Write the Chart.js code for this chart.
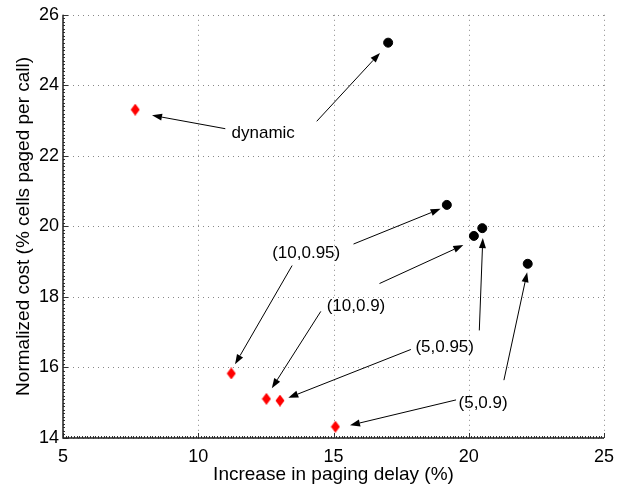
<!DOCTYPE html>
<html lang="en">
  <head>
    <meta charset="UTF-8" />
    <title>Paging cost vs delay</title>
    <script src="https://cdn.jsdelivr.net/npm/chart.js@4/dist/chart.umd.min.js"></script>
    <style>
      body { margin: 0; background: #fff; }
      #wrap { width: 624px; height: 487px; }
    </style>
  </head>
  <body>
    <div id="wrap"><canvas id="costChart" width="624" height="487"></canvas></div>
    <script>
      // black dots
      var dotX = [17.02, 19.19, 20.19, 20.5, 22.18];
      var dotY = [25.21, 20.61, 19.73, 19.95, 18.94];
      // red diamonds
      var diamondX = [7.67, 11.22, 12.52, 13.02, 15.07];
      var diamondY = [23.31, 15.83, 15.11, 15.06, 14.32];

      // annotation labels
      var labelText = ["dynamic", "(10,0.95)", "(10,0.9)", "(5,0.95)", "(5,0.9)"];
      var labelX = [12.4, 13.99, 15.83, 19.11, 20.53];
      var labelY = [22.65, 19.25, 17.73, 16.56, 14.98];

      // arrows (from -> to), in data units
      var arrowFromX = [11.0, 14.38, 15.74, 13.47, 16.7, 14.53, 17.86, 20.39, 19.53, 21.3];
      var arrowFromY = [22.77, 22.98, 19.5, 18.89, 18.38, 17.59, 16.51, 17.05, 15.08, 15.64];
      var arrowToX = [8.29, 16.72, 18.96, 11.36, 19.8, 12.72, 13.33, 20.52, 15.61, 22.16];
      var arrowToY = [23.15, 24.92, 20.5, 16.09, 19.47, 15.41, 15.14, 19.67, 14.36, 18.7];

      var xTicks = [5, 10, 15, 20, 25];
      var yTicks = [14, 16, 18, 20, 22, 24, 26];

      function toPoints(xs, ys) {
        return xs.map(function (x, i) { return { x: x, y: ys[i] }; });
      }

      // diamond marker, a bit taller than wide
      var diamond = document.createElement("canvas");
      diamond.width = 10;
      diamond.height = 12;
      var dctx = diamond.getContext("2d");
      dctx.fillStyle = "#ff0000";
      dctx.beginPath();
      dctx.moveTo(5, 0);
      dctx.lineTo(9.5, 6);
      dctx.lineTo(5, 12);
      dctx.lineTo(0.5, 6);
      dctx.closePath();
      dctx.fill();

      var annotate = {
        id: "annotate",
        beforeDatasetsDraw: function (chart) {
          var ctx = chart.ctx;
          var xs = chart.scales.x, ys = chart.scales.y;
          var area = chart.chartArea;
          ctx.save();
          // dotted grid
          ctx.strokeStyle = "#888";
          ctx.lineWidth = 1;
          ctx.setLineDash([1, 4]);
          ctx.beginPath();
          xTicks.forEach(function (v) {
            var px = Math.round(xs.getPixelForValue(v)) + 0.5;
            ctx.moveTo(px, area.top);
            ctx.lineTo(px, area.bottom);
          });
          yTicks.forEach(function (v) {
            var py = Math.round(ys.getPixelForValue(v)) + 0.5;
            ctx.moveTo(area.left, py);
            ctx.lineTo(area.right, py);
          });
          ctx.stroke();
          ctx.setLineDash([]);
          // minor ticks
          ctx.strokeStyle = "#333";
          ctx.beginPath();
          for (var v = 50; v <= 250; v++) {
            var px = Math.round(xs.getPixelForValue(v / 10)) + 0.5;
            ctx.moveTo(px, area.bottom);
            ctx.lineTo(px, area.bottom - (v % 50 === 0 ? 5 : 2));
          }
          for (var w = 140; w <= 260; w++) {
            var py = Math.round(ys.getPixelForValue(w / 10)) + 0.5;
            ctx.moveTo(area.left, py);
            ctx.lineTo(area.left + (w % 20 === 0 ? 5 : 2), py);
          }
          ctx.stroke();
          // axis lines
          ctx.strokeStyle = "#222";
          ctx.lineWidth = 1.5;
          ctx.beginPath();
          ctx.moveTo(area.left, area.top);
          ctx.lineTo(area.left, area.bottom);
          ctx.lineTo(area.right, area.bottom);
          ctx.stroke();
          ctx.restore();
        },
        afterDatasetsDraw: function (chart) {
          var ctx = chart.ctx;
          var xs = chart.scales.x, ys = chart.scales.y;
          ctx.save();
          ctx.strokeStyle = "#000";
          ctx.fillStyle = "#000";
          ctx.lineWidth = 1;
          for (var i = 0; i < arrowFromX.length; i++) {
            var x0 = xs.getPixelForValue(arrowFromX[i]);
            var y0 = ys.getPixelForValue(arrowFromY[i]);
            var x1 = xs.getPixelForValue(arrowToX[i]);
            var y1 = ys.getPixelForValue(arrowToY[i]);
            var ang = Math.atan2(y1 - y0, x1 - x0);
            var len = 10, half = 3.5;
            var bx = x1 - len * Math.cos(ang), by = y1 - len * Math.sin(ang);
            ctx.beginPath();
            ctx.moveTo(x0, y0);
            ctx.lineTo(bx, by);
            ctx.stroke();
            ctx.beginPath();
            ctx.moveTo(x1, y1);
            ctx.lineTo(bx + half * Math.sin(ang), by - half * Math.cos(ang));
            ctx.lineTo(bx - half * Math.sin(ang), by + half * Math.cos(ang));
            ctx.closePath();
            ctx.fill();
          }
          ctx.font = "17px 'Liberation Sans', Arial, sans-serif";
          ctx.textAlign = "center";
          ctx.textBaseline = "middle";
          for (var j = 0; j < labelText.length; j++) {
            ctx.fillText(labelText[j], xs.getPixelForValue(labelX[j]), ys.getPixelForValue(labelY[j]));
          }
          ctx.restore();
        },
      };

      var tickFont = { family: "'Liberation Sans', Arial, sans-serif", size: 18 };
      var titleFont = { family: "'Liberation Sans', Arial, sans-serif", size: 19 };

      new Chart(document.getElementById("costChart"), {
        type: "scatter",
        data: {
          datasets: [
            {
              data: toPoints(dotX, dotY),
              pointStyle: "circle",
              pointRadius: 4.5,
              pointHoverRadius: 4.5,
              backgroundColor: "#000",
              borderColor: "#000",
            },
            {
              data: toPoints(diamondX, diamondY),
              pointStyle: diamond,
              pointRadius: 5,
            },
          ],
        },
        options: {
          responsive: false,
          animation: false,
          events: [],
          layout: { padding: { top: 11, right: 20, left: 0, bottom: 0 } },
          plugins: { legend: { display: false }, tooltip: { enabled: false } },
          scales: {
            x: {
              type: "linear",
              min: 5,
              max: 25,
              afterBuildTicks: function (s) { s.ticks = xTicks.map(function (v) { return { value: v }; }); },
              afterFit: function (s) { s.height = 49; },
              grid: { display: false, drawTicks: false },
              border: { display: false },
              ticks: { color: "#000", font: tickFont, padding: 8, maxRotation: 0 },
              title: {
                display: true,
                text: "Increase in paging delay (%)",
                color: "#000",
                font: titleFont,
                padding: { top: 0, bottom: 1 },
              },
            },
            y: {
              type: "linear",
              min: 14,
              max: 26,
              afterBuildTicks: function (s) { s.ticks = yTicks.map(function (v) { return { value: v }; }); },
              afterFit: function (s) { s.width = 63; },
              grid: { display: false, drawTicks: false },
              border: { display: false },
              ticks: { color: "#000", font: tickFont, padding: 4 },
              title: {
                display: true,
                text: "Normalized cost (% cells paged per call)",
                color: "#000",
                font: titleFont,
                padding: { top: 12, bottom: 0 },
              },
            },
          },
        },
        plugins: [annotate],
      });
    </script>
  </body>
</html>
